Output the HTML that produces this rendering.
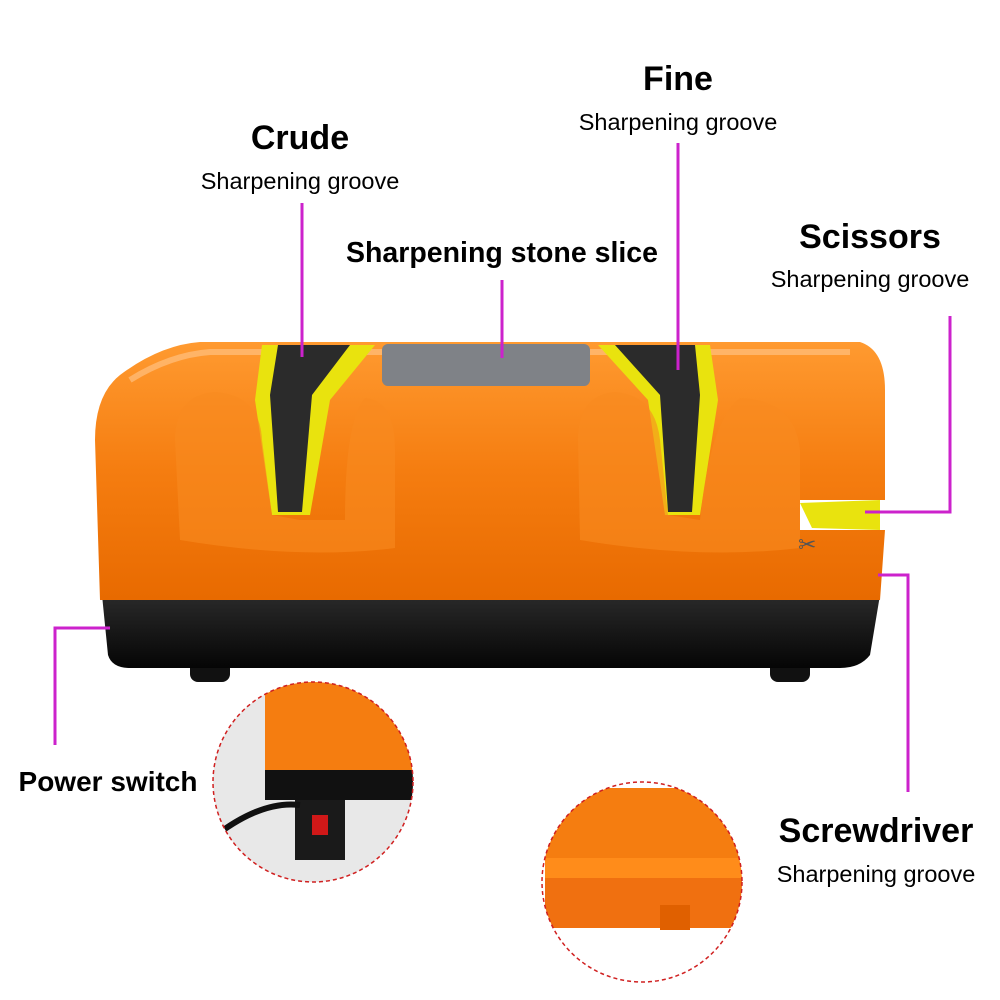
<!DOCTYPE html>
<html><head><meta charset="utf-8"><style>
html,body{margin:0;padding:0;background:#fff;}
svg{display:block}
text{font-family:"Liberation Sans",Arial,sans-serif;fill:#000}
.b{font-weight:bold}
</style></head><body>
<svg width="1000" height="1000" viewBox="0 0 1000 1000" xmlns="http://www.w3.org/2000/svg">
<defs>
<linearGradient id="og" x1="0" y1="0" x2="0" y2="1">
<stop offset="0" stop-color="#ff9a30"/><stop offset="0.5" stop-color="#f57d10"/><stop offset="1" stop-color="#e86a00"/>
</linearGradient>
<linearGradient id="bk" x1="0" y1="0" x2="0" y2="1">
<stop offset="0" stop-color="#2a2a2a"/><stop offset="1" stop-color="#050505"/>
</linearGradient>
<clipPath id="c1"><circle cx="313" cy="782" r="100"/></clipPath>
<clipPath id="c2"><circle cx="642" cy="882" r="100"/></clipPath>
</defs>

<rect x="190" y="660" width="40" height="22" rx="8" fill="#111"/>
<rect x="770" y="660" width="40" height="22" rx="8" fill="#111"/>
<path d="M102 595 L880 595 L870 655 Q860 668 840 668 L130 668 Q112 668 108 655 Z" fill="url(#bk)"/>
<path d="M120 375 Q160 345 200 342 L860 342 Q885 350 885 390 L885 500 L800 500 L800 530 L885 530 L880 600 L100 600 L95 440 Q95 395 120 375 Z" fill="url(#og)"/>
<path d="M130 380 Q170 355 210 352 L850 352" stroke="#ffc080" stroke-width="6" fill="none" opacity="0.7"/>
<rect x="382" y="344" width="208" height="42" rx="6" fill="#7f8287"/>
<polygon points="262,345 375,345 330,400 310,515 272,515 255,400" fill="#e9e30e"/>
<polygon points="278,345 350,345 312,395 302,512 278,512 270,395" fill="#2b2b2b"/>
<polygon points="598,345 710,345 718,400 700,515 665,515 648,400" fill="#e9e30e"/>
<polygon points="615,345 695,345 700,395 692,512 668,512 660,395" fill="#2b2b2b"/>
<path d="M175 440 Q175 395 215 392 Q260 395 262 440 L272 515 L300 520 L310 520 L345 520 Q345 420 365 398 Q395 400 395 450 L395 548 Q300 560 180 540 Z" fill="#f88a20" opacity="0.6"/>
<path d="M578 440 Q578 395 615 392 Q655 395 660 440 L668 515 L700 520 Q710 420 740 398 Q795 400 800 450 L800 548 Q700 560 580 540 Z" fill="#f88a20" opacity="0.6"/>
<polygon points="800,503 880,500 880,530 812,528" fill="#e9e30e"/>
<text x="798" y="552" font-size="22" style="fill:#555">✂</text>

<g stroke="#cc22cc" stroke-width="3" fill="none">
<line x1="302" y1="203" x2="302" y2="357"/>
<line x1="502" y1="280" x2="502" y2="358"/>
<line x1="678" y1="143" x2="678" y2="370"/>
<polyline points="950,316 950,512 865,512"/>
<polyline points="878,575 908,575 908,792"/>
<polyline points="110,628 55,628 55,745"/>
</g>

<g clip-path="url(#c1)">
<rect x="200" y="670" width="230" height="230" fill="#e8e8e8"/>
<rect x="265" y="670" width="170" height="105" fill="#f57d10"/>
<rect x="265" y="770" width="170" height="30" fill="#111"/>
<rect x="295" y="800" width="50" height="60" fill="#1a1a1a"/>
<rect x="312" y="815" width="16" height="20" fill="#d01818"/>
<path d="M210 840 Q260 800 300 805" stroke="#111" stroke-width="6" fill="none"/>
</g>
<circle cx="313" cy="782" r="100" fill="none" stroke="#d02020" stroke-width="1.5" stroke-dasharray="4,3"/>
<g clip-path="url(#c2)">
<rect x="540" y="780" width="210" height="210" fill="#fff"/>
<path d="M545 800 Q570 790 600 788 L745 788 L745 860 L545 860 Z" fill="#f57d10"/>
<rect x="545" y="858" width="200" height="20" fill="#ff8c1a"/>
<rect x="545" y="878" width="200" height="50" fill="#f07010"/>
<rect x="660" y="905" width="30" height="25" fill="#e06000"/>
</g>
<circle cx="642" cy="882" r="100" fill="none" stroke="#d02020" stroke-width="1.5" stroke-dasharray="4,3"/>

<text x="300" y="149" font-size="34" class="b" text-anchor="middle">Crude</text>
<text x="300" y="189" font-size="23.5" text-anchor="middle">Sharpening groove</text>
<text x="678" y="90" font-size="34" class="b" text-anchor="middle">Fine</text>
<text x="678" y="130" font-size="23.5" text-anchor="middle">Sharpening groove</text>
<text x="502" y="262" font-size="28.5" class="b" text-anchor="middle">Sharpening stone slice</text>
<text x="870" y="248" font-size="34" class="b" text-anchor="middle">Scissors</text>
<text x="870" y="287" font-size="23.5" text-anchor="middle">Sharpening groove</text>
<text x="108" y="791" font-size="28" class="b" text-anchor="middle">Power switch</text>
<text x="876" y="842" font-size="34" class="b" text-anchor="middle">Screwdriver</text>
<text x="876" y="882" font-size="23.5" text-anchor="middle">Sharpening groove</text>
</svg>
</body></html>
